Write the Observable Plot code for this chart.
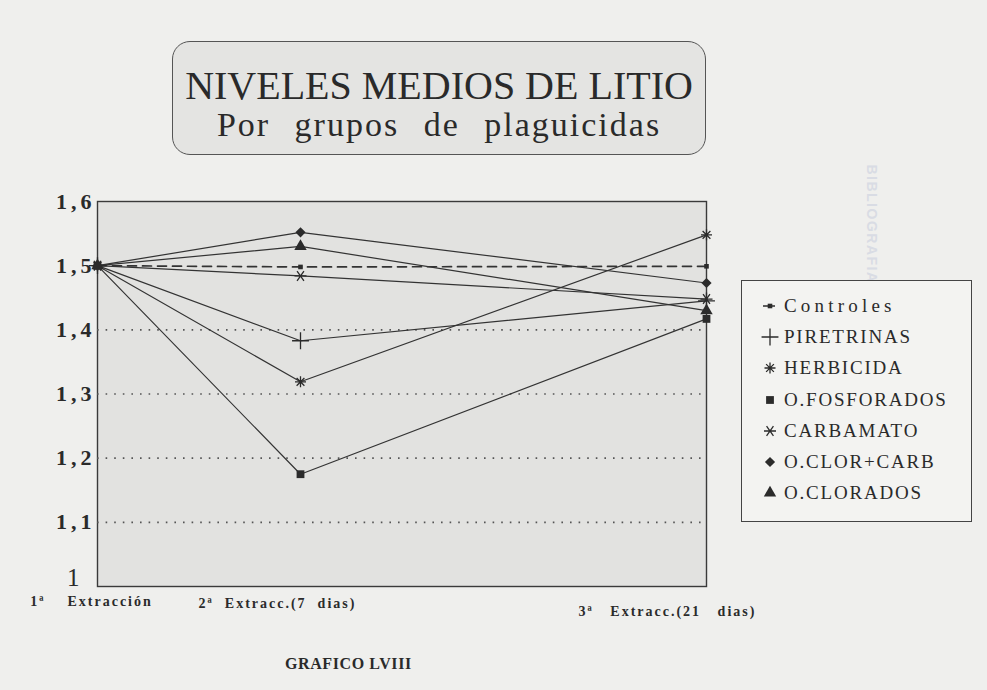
<!DOCTYPE html>
<html><head><meta charset="utf-8">
<script src="https://cdn.jsdelivr.net/npm/d3@7"></script>
<script src="https://cdn.jsdelivr.net/npm/@observablehq/plot@0.6"></script>
<style>
body{margin:0;background:#efefed;}
#page{position:relative;width:987px;height:690px;overflow:hidden;font-family:"Liberation Serif","Times New Roman",serif;color:#2a2a2a;}
#titlebox{position:absolute;left:172px;top:41px;width:532px;height:112px;border:1.5px solid #555;border-radius:18px;background:#e4e4e2;}
#t1{position:absolute;left:0;right:0;top:24px;text-align:center;font-size:40px;line-height:1;white-space:nowrap;}
#t2{position:absolute;left:0;right:0;top:66px;text-align:center;font-size:34px;letter-spacing:2px;word-spacing:14px;line-height:1;white-space:nowrap;}
#chart{position:absolute;left:0;top:180px;}
#legend{position:absolute;left:741px;top:280px;width:229px;height:240px;border:1.4px solid #444;background:#f3f3f1;}
.row{position:absolute;left:18px;height:30px;display:flex;align-items:center;font-size:19px;letter-spacing:1.8px;white-space:nowrap;}
.row svg{margin-right:4px;}
#caption{position:absolute;left:285px;top:655px;font-size:16px;font-weight:bold;letter-spacing:0.6px;}
#bleed{position:absolute;left:812px;top:216px;transform:rotate(90deg);font-size:14px;font-weight:bold;letter-spacing:1.5px;color:#d9dce4;font-family:"Liberation Sans",sans-serif;}
#chart g[aria-label^="y-axis"] text{font-size:22px;font-weight:bold;letter-spacing:4px;fill:#2a2a2a;}
</style>
</head><body>
<div id="page">
  <div id="titlebox">
    <div id="t1">NIVELES MEDIOS DE LITIO</div>
    <div id="t2">Por grupos de plaguicidas</div>
  </div>
  <div id="bleed">BIBLIOGRAFIA</div>
  <div id="chart"></div>
  <div id="legend"></div>
  <div id="caption">GRAFICO LVIII</div>
</div>
<script>
// ---- data ----
const days = [0, 7, 21];
const xLabels = ["1ª\u00a0\u00a0\u00a0\u00a0Extracción", "2ª\u00a0\u00a0Extracc.(7\u00a0\u00a0dias)", "3ª\u00a0\u00a0\u00a0Extracc.(21\u00a0\u00a0\u00a0dias)"];
const seriesNames = ["Controles", "PIRETRINAS", "HERBICIDA", "O.FOSFORADOS", "CARBAMATO", "O.CLOR+CARB", "O.CLORADOS"];
const controles   = [1.500, 1.498, 1.499];
const piretrinas  = [1.500, 1.383, 1.445];
const herbicida   = [1.500, 1.319, 1.548];
const fosforados  = [1.500, 1.175, 1.417];
const carbamato   = [1.500, 1.484, 1.448];
const clorCarb    = [1.500, 1.552, 1.473];
const clorados    = [1.500, 1.530, 1.430];
const yTicks = [1, 1.1, 1.2, 1.3, 1.4, 1.5, 1.6];
const gridTicks = [1.1, 1.2, 1.3, 1.4];

const values = [controles, piretrinas, herbicida, fosforados, carbamato, clorCarb, clorados];

// ---- symbols ----
function spokes(angles) {
  return {draw(ctx, size) {
    const r = Math.sqrt(size / Math.PI);
    for (const a of angles) {
      const t = a * Math.PI / 180, c = Math.cos(t) * r, s = Math.sin(t) * r;
      ctx.moveTo(c, s); ctx.lineTo(-c, -s);
    }
  }};
}
const symHerb = spokes([0, 45, 90, 135]);
const symCarb = spokes([0, 55, 125]);
const styles = [
  {symbol: d3.symbolSquare, r: 2.6, filled: true},
  {symbol: d3.symbolPlus, r: 5.5, filled: false},
  {symbol: symHerb, r: 5.5, filled: false},
  {symbol: d3.symbolSquare, r: 4.4, filled: true},
  {symbol: symCarb, r: 6, filled: false},
  {symbol: d3.symbolDiamond2, r: 4.6, filled: true},
  {symbol: d3.symbolTriangle, r: 4.6, filled: true}
];

const rows = [];
seriesNames.forEach((name, i) => days.forEach((d, j) => rows.push({series: name, idx: i, day: d, value: values[i][j]})));

const ink = "#2b2b2b";
const marks = [
  Plot.frame({fill: "#e2e2e0", stroke: "#3a3a3a", strokeWidth: 1.4}),
  Plot.ruleY(gridTicks, {stroke: "#555", strokeDasharray: "1.6,7", strokeWidth: 1.6})
];
seriesNames.forEach((name, i) => {
  const data = rows.filter(r => r.series === name);
  marks.push(Plot.line(data, {x: "day", y: "value", stroke: "#333", strokeWidth: name === "Controles" ? 1.7 : 1.2,
    strokeDasharray: name === "Controles" ? "9,6" : null}));
});
seriesNames.forEach((name, i) => {
  const data = rows.filter(r => r.series === name);
  const s = styles[i];
  marks.push(Plot.dot(data, {x: "day", y: "value", symbol: s.symbol, r: s.r,
    fill: s.filled ? ink : "none", stroke: s.filled ? "none" : ink, strokeWidth: 1.3}));
});
const labData = days.map((d, i) => ({day: d, label: xLabels[i]}));
const labOffsets = [[-6, 19], [-23, 21], [-39, 29]];
labData.forEach((l, i) => {
  marks.push(Plot.text([l], {x: "day", text: "label", frameAnchor: "bottom", dx: labOffsets[i][0], dy: labOffsets[i][1],
    fill: ink, fontSize: 14, fontWeight: "bold"}));
});

const chart = Plot.plot({
  width: 720, height: 451,
  marginLeft: 97, marginRight: 14, marginTop: 21, marginBottom: 45,
  style: {background: "transparent", fontFamily: "'Liberation Serif', serif", color: ink, overflow: "visible"},
  x: {domain: [0, 21], axis: null},
  y: {domain: [1, 1.6], ticks: yTicks, tickFormat: v => v === 1 ? "1" : d3.format(".1f")(v).replace(".", ","),
      tickSize: 0, tickPadding: 2, label: null},
  marks
});
document.getElementById("chart").appendChild(chart);
d3.select(chart).selectAll("text").filter(function() { return xLabels.includes(this.textContent); })
  .style("letter-spacing", "2px");
// the bottom "1" label sits raised and further left, in normal weight
d3.select(chart).selectAll('g[aria-label^="y-axis"] text').filter(function() { return this.textContent === "1"; })
  .each(function() {
    const old = this.getAttribute("transform") || "";
    this.setAttribute("transform", (old + " translate(-12,-9)").trim());
  })
  .style("font-weight", "normal").style("font-size", "25px");

// ---- legend ----
const legend = document.getElementById("legend");
seriesNames.forEach((name, i) => {
  const s = styles[i];
  const p = d3.path();
  s.symbol.draw(p, s.r * s.r * Math.PI);
  const row = document.createElement("div");
  row.className = "row";
  row.style.top = (10 + i * 31.2) + "px";
  if (name === "Controles") row.style.letterSpacing = "4.2px";
  const extra = name === "Controles" ? `<line x1="2" y1="9" x2="14" y2="9" stroke="${ink}" stroke-width="1.5"/>` : "";
  row.innerHTML = `<svg width="20" height="18" viewBox="0 0 18 18" style="overflow:visible">${extra}<path transform="translate(9,9)" d="${p.toString()}" fill="${s.filled ? ink : "none"}" stroke="${s.filled ? "none" : ink}" stroke-width="1.3"/></svg><span>${name}</span>`;
  legend.appendChild(row);
});
</script>
</body></html>
